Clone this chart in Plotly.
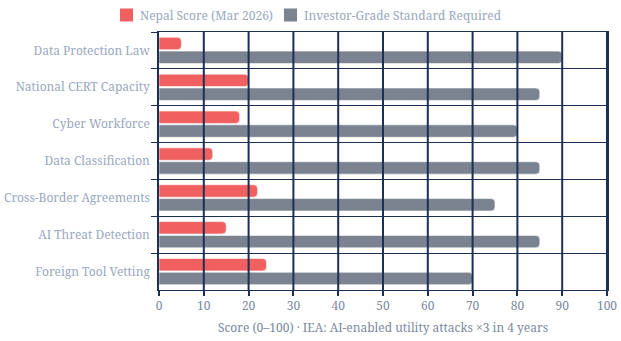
import plotly.graph_objects as go

categories = ["Data Protection Law", "National CERT Capacity", "Cyber Workforce",
              "Data Classification", "Cross-Border Agreements", "AI Threat Detection",
              "Foreign Tool Vetting"]
nepal_score = [5, 20, 18, 12, 22, 15, 24]
investor_standard = [90, 85, 80, 85, 75, 85, 70]
x_ticks = [0, 10, 20, 30, 40, 50, 60, 70, 80, 90, 100]
series_names = ["Nepal Score (Mar 2026)", "Investor-Grade Standard Required"]
series_colors = ["#ef4f4f", "#6c7683"]

FONT = "Noto Serif, DejaVu Serif, serif"
GRID = "#1c3055"

fig = go.Figure()
for name, vals, col in zip(series_names, [nepal_score, investor_standard], series_colors):
    fig.add_trace(go.Bar(
        y=categories, x=vals, orientation="h", name=name, showlegend=False,
        marker=dict(color=col, cornerradius=4, opacity=0.9,
                    line=dict(color="rgba(255,255,255,0.6)", width=1)),
    ))

# vertical grid lines at tick values, drawn above the bars
for t in x_ticks[1:]:
    fig.add_shape(type="line", xref="x", yref="paper", x0=t, x1=t, y0=0, y1=1,
                  line=dict(color=GRID, width=2), layer="above")

W, H = 448.0, 258.0
def px(x): return (x - 159) / W
def py(y): return (290 - y) / H
leg = [(120, 138, series_names[0], series_colors[0]),
       (284, 302, series_names[1], series_colors[1])]
for sx, tx, name, col in leg:
    fig.add_shape(type="rect", xref="paper", yref="paper",
                  x0=px(sx), x1=px(sx + 13), y0=py(21.5), y1=py(8.5),
                  fillcolor=col, opacity=0.9, line=dict(width=0))
    fig.add_annotation(xref="paper", yref="paper", x=px(tx), y=py(15),
                       xanchor="left", yanchor="middle", text=name, showarrow=False,
                       font=dict(size=12, color="#9aa8c0", family=FONT))

fig.update_layout(
    width=621, height=341,
    margin=dict(l=159, r=14, t=32, b=51, autoexpand=False),
    paper_bgcolor="white", plot_bgcolor="white",
    barmode="group", bargap=0.25, bargroupgap=0.1,
    font=dict(family=FONT, size=12, color="#9aa8c0"),
    showlegend=False,
)

fig.update_xaxes(
    range=[0, 100], tickvals=x_ticks, showgrid=False,
    showline=True, linecolor=GRID, linewidth=1, mirror=True,
    ticks="outside", ticklen=5, tickcolor=GRID, tickwidth=2, zeroline=False,
    tickfont=dict(size=12, color="#7d8aa0"),
    title=dict(text="Score (0–100) · IEA: AI-enabled utility attacks ×3 in 4 years",
               font=dict(size=12, color="#7d8aa0"), standoff=10),
)
fig.update_yaxes(
    autorange="reversed", tickson="boundaries", showgrid=True, gridcolor=GRID, gridwidth=1,
    showline=True, linecolor=GRID, linewidth=1.5, mirror=True,
    ticks="outside", ticklen=6, tickcolor=GRID, ticklabelstandoff=5,
    tickfont=dict(size=12, color="#9aa8c0"),
)

fig.write_html("out.html")
